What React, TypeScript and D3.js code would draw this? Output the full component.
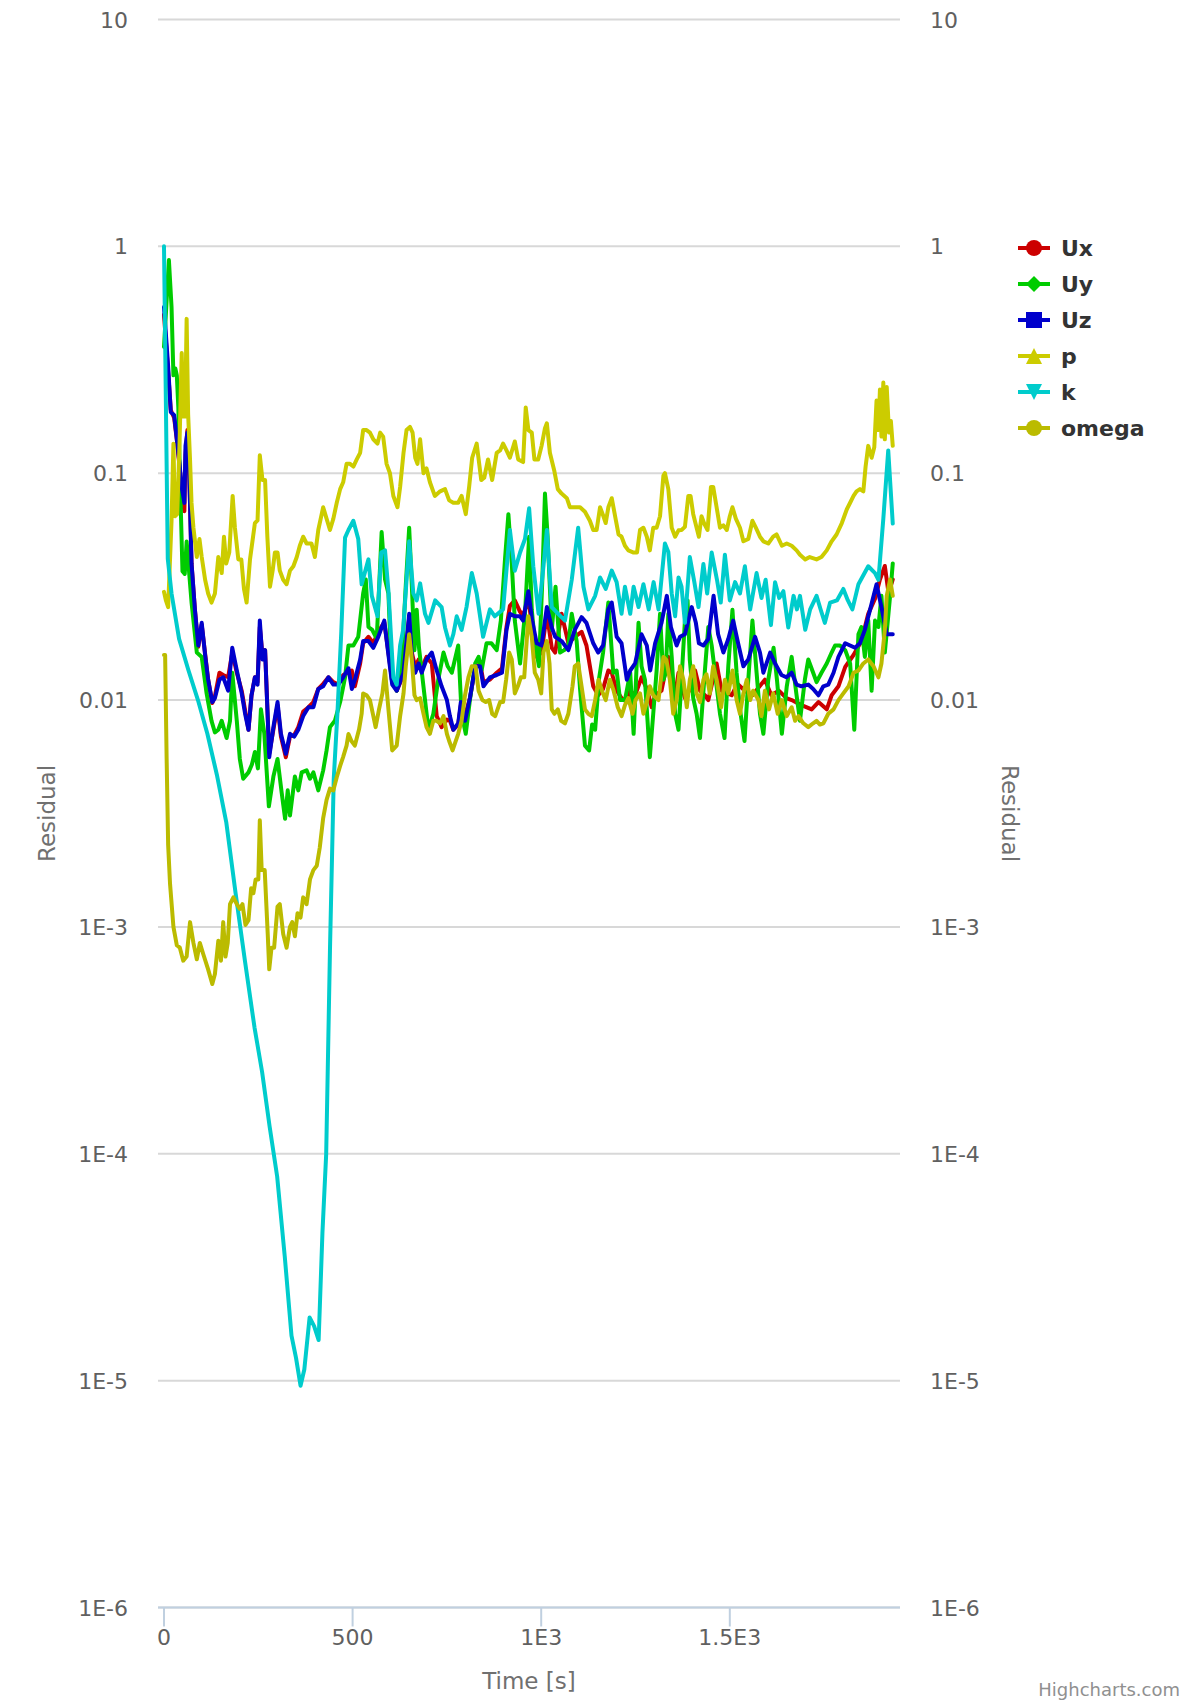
import React from 'react';
import * as d3 from 'd3';

type Pt = [number, number];

const uxData: Pt[] = [[0,0.5],[11,0.28],[18,0.19],[27,0.175],[34,0.14],[40,0.112],[47,0.085],[54,0.068],[57,0.12],[62,0.155],[67,0.098],[73,0.04],[82,0.025],[91,0.0172],[100,0.0215],[109,0.016],[117,0.0123],[128,0.0097],[135,0.0104],[147,0.0132],[157,0.0129],[170,0.0126],[181,0.0162],[193,0.0132],[206,0.011],[215,0.009],[224,0.0074],[232,0.0105],[241,0.0126],[248,0.012],[254,0.021],[261,0.0158],[268,0.0166],[279,0.0058],[290,0.0074],[301,0.0095],[310,0.0069],[323,0.0056],[334,0.0069],[345,0.007],[356,0.0076],[369,0.0089],[383,0.0093],[396,0.0098],[409,0.0112],[422,0.0118],[436,0.0126],[449,0.012],[462,0.0117],[475,0.0129],[489,0.0132],[498,0.0135],[506,0.0115],[520,0.0145],[528,0.0178],[542,0.019],[555,0.0178],[568,0.02],[584,0.022],[595,0.0162],[605,0.012],[617,0.011],[635,0.0129],[650,0.023],[657,0.0162],[666,0.014],[675,0.0151],[683,0.0138],[696,0.0155],[710,0.0145],[723,0.0085],[736,0.0076],[750,0.0082],[758,0.0081],[767,0.0074],[780,0.0078],[787,0.0095],[798,0.0085],[811,0.0102],[825,0.0138],[838,0.0145],[847,0.012],[864,0.0123],[882,0.0132],[896,0.0138],[908,0.021],[917,0.026],[930,0.0275],[944,0.0245],[952,0.0235],[966,0.028],[976,0.021],[988,0.0155],[1001,0.0162],[1015,0.024],[1028,0.017],[1037,0.0162],[1054,0.024],[1072,0.0178],[1089,0.019],[1107,0.02],[1120,0.0174],[1138,0.0115],[1151,0.0105],[1164,0.0112],[1178,0.0135],[1187,0.0132],[1200,0.011],[1213,0.0102],[1227,0.0098],[1236,0.011],[1249,0.0105],[1266,0.0126],[1280,0.0112],[1293,0.0093],[1302,0.0105],[1319,0.011],[1337,0.0155],[1344,0.0126],[1355,0.0105],[1364,0.0132],[1381,0.0102],[1395,0.0112],[1408,0.0135],[1421,0.011],[1434,0.0105],[1443,0.01],[1465,0.0145],[1478,0.011],[1505,0.0105],[1520,0.0118],[1540,0.011],[1560,0.0105],[1593,0.0123],[1610,0.0105],[1630,0.011],[1650,0.0102],[1664,0.01],[1690,0.0095],[1717,0.0091],[1735,0.0098],[1757,0.0091],[1770,0.0105],[1788,0.0115],[1806,0.014],[1828,0.0158],[1849,0.0182],[1867,0.024],[1885,0.028],[1898,0.034],[1911,0.039],[1921,0.0295],[1932,0.034]];

const uyData: Pt[] = [[0,0.36],[13,0.87],[20,0.54],[25,0.27],[30,0.29],[34,0.27],[38,0.195],[42,0.1],[49,0.037],[55,0.036],[60,0.05],[73,0.027],[87,0.0162],[100,0.0155],[113,0.0107],[126,0.0081],[135,0.0072],[144,0.0074],[153,0.0081],[166,0.0068],[175,0.0081],[181,0.0132],[193,0.0081],[201,0.0055],[210,0.0045],[224,0.0048],[233,0.0052],[241,0.0059],[249,0.005],[257,0.0091],[266,0.0071],[278,0.0034],[290,0.0046],[301,0.0055],[312,0.0039],[321,0.003],[328,0.004],[334,0.0031],[347,0.0046],[356,0.004],[365,0.0048],[378,0.0049],[387,0.0045],[396,0.0048],[409,0.004],[422,0.0049],[431,0.006],[440,0.0076],[453,0.0081],[467,0.0098],[480,0.0126],[489,0.0174],[502,0.0174],[515,0.019],[528,0.0295],[535,0.034],[542,0.021],[552,0.0204],[564,0.0186],[577,0.055],[586,0.034],[595,0.0295],[604,0.0123],[617,0.011],[630,0.0145],[641,0.032],[650,0.0575],[657,0.032],[664,0.0166],[670,0.025],[676,0.017],[683,0.0135],[692,0.01],[701,0.0074],[714,0.0087],[727,0.0123],[741,0.0162],[752,0.0141],[763,0.0132],[780,0.0174],[789,0.0087],[800,0.0071],[811,0.01],[825,0.0145],[834,0.0155],[842,0.0135],[855,0.0178],[868,0.0178],[882,0.0166],[893,0.0224],[904,0.0417],[913,0.066],[922,0.04],[930,0.0224],[944,0.0145],[957,0.024],[968,0.0525],[975,0.025],[983,0.0182],[994,0.0141],[1003,0.034],[1010,0.0813],[1017,0.0525],[1028,0.0204],[1038,0.0316],[1050,0.0162],[1061,0.0166],[1072,0.0174],[1081,0.024],[1094,0.0182],[1103,0.0112],[1116,0.0063],[1127,0.006],[1135,0.0078],[1143,0.0074],[1153,0.0123],[1164,0.0162],[1178,0.0269],[1191,0.0132],[1200,0.0135],[1209,0.01],[1222,0.01],[1236,0.0132],[1245,0.0071],[1258,0.0219],[1266,0.0141],[1275,0.0123],[1288,0.0056],[1297,0.0087],[1306,0.0135],[1315,0.024],[1324,0.0123],[1330,0.0132],[1337,0.024],[1346,0.0155],[1355,0.0087],[1364,0.0074],[1372,0.0123],[1381,0.0224],[1388,0.0275],[1394,0.015],[1403,0.0102],[1412,0.0087],[1421,0.0068],[1434,0.0135],[1443,0.021],[1452,0.0174],[1465,0.0115],[1474,0.0087],[1486,0.0068],[1496,0.0141],[1507,0.025],[1518,0.0132],[1527,0.0091],[1539,0.0066],[1549,0.0123],[1560,0.0224],[1571,0.0132],[1580,0.0087],[1589,0.0071],[1602,0.0123],[1616,0.017],[1625,0.0123],[1638,0.0071],[1651,0.0115],[1664,0.0155],[1677,0.0105],[1686,0.0081],[1699,0.0123],[1708,0.0151],[1721,0.0132],[1730,0.012],[1743,0.0132],[1757,0.0145],[1770,0.0162],[1779,0.0174],[1792,0.0174],[1806,0.0166],[1819,0.0145],[1830,0.0074],[1841,0.0195],[1849,0.021],[1858,0.0155],[1867,0.0224],[1876,0.011],[1885,0.0224],[1894,0.021],[1902,0.0288],[1911,0.0162],[1925,0.0288],[1932,0.04]];

const uzData: Pt[] = [[0,0.54],[11,0.295],[18,0.186],[27,0.18],[34,0.141],[40,0.115],[47,0.087],[54,0.074],[57,0.132],[62,0.151],[67,0.1],[73,0.04],[82,0.025],[91,0.0174],[100,0.0219],[109,0.0158],[117,0.0123],[128,0.0098],[135,0.0102],[147,0.0123],[157,0.0126],[170,0.011],[181,0.017],[193,0.0135],[206,0.0107],[215,0.0087],[224,0.0074],[232,0.0105],[241,0.0126],[248,0.0117],[254,0.0224],[261,0.0151],[268,0.0166],[279,0.0056],[290,0.0076],[301,0.0098],[310,0.0071],[323,0.0058],[334,0.0071],[345,0.0069],[356,0.0074],[369,0.0085],[383,0.0093],[396,0.0093],[409,0.0112],[422,0.0115],[436,0.0126],[449,0.0117],[462,0.0117],[475,0.0126],[489,0.0138],[498,0.0112],[506,0.0123],[520,0.0151],[528,0.0182],[542,0.0182],[555,0.017],[568,0.019],[584,0.0224],[595,0.0158],[605,0.0117],[617,0.011],[635,0.0132],[650,0.024],[657,0.0155],[666,0.0132],[675,0.0145],[683,0.0132],[696,0.0151],[710,0.0162],[723,0.0135],[736,0.0115],[750,0.01],[758,0.0085],[767,0.0074],[780,0.0079],[787,0.0098],[798,0.0081],[811,0.0102],[825,0.0141],[838,0.0141],[847,0.0115],[864,0.0126],[882,0.0129],[896,0.0132],[908,0.0204],[917,0.024],[930,0.0234],[944,0.0234],[952,0.0224],[966,0.0302],[976,0.0224],[988,0.0178],[1001,0.0174],[1015,0.0257],[1028,0.0209],[1037,0.019],[1054,0.0182],[1072,0.0166],[1089,0.0204],[1107,0.0232],[1120,0.0219],[1138,0.0178],[1151,0.0162],[1164,0.0174],[1178,0.0251],[1187,0.0269],[1200,0.019],[1213,0.0178],[1227,0.0123],[1236,0.0135],[1249,0.0145],[1266,0.0195],[1280,0.0174],[1289,0.0135],[1302,0.0178],[1319,0.0219],[1333,0.0288],[1344,0.0209],[1359,0.0174],[1368,0.019],[1381,0.0195],[1399,0.0257],[1410,0.0219],[1418,0.0178],[1430,0.0174],[1443,0.0186],[1457,0.0288],[1469,0.0195],[1483,0.0162],[1496,0.0186],[1509,0.0224],[1522,0.0178],[1536,0.0141],[1549,0.0151],[1567,0.019],[1580,0.0162],[1589,0.0132],[1607,0.0162],[1620,0.0145],[1637,0.0129],[1650,0.0126],[1664,0.0132],[1677,0.0117],[1690,0.0115],[1708,0.0117],[1721,0.0112],[1735,0.0105],[1748,0.0115],[1761,0.0117],[1775,0.0132],[1788,0.0155],[1806,0.0178],[1819,0.0174],[1832,0.017],[1845,0.0178],[1858,0.0204],[1872,0.0251],[1889,0.0324],[1902,0.0257],[1916,0.0195],[1932,0.0195]];

const pData: Pt[] = [[0,0.03],[5,0.0275],[11,0.0257],[20,0.0617],[25,0.135],[29,0.0646],[35,0.066],[41,0.132],[47,0.339],[51,0.178],[56,0.178],[60,0.479],[64,0.182],[69,0.115],[73,0.074],[78,0.0575],[87,0.0427],[94,0.0513],[100,0.0427],[109,0.0339],[117,0.0295],[126,0.0269],[135,0.0295],[144,0.0427],[153,0.0363],[159,0.0525],[165,0.04],[173,0.0447],[182,0.0794],[188,0.0575],[197,0.0417],[205,0.0417],[212,0.0309],[219,0.0269],[228,0.0417],[241,0.0603],[248,0.062],[254,0.12],[261,0.0933],[268,0.0933],[274,0.0525],[281,0.0316],[288,0.0372],[294,0.0447],[301,0.0447],[307,0.0372],[316,0.0339],[325,0.0324],[334,0.0372],[343,0.0389],[352,0.0427],[360,0.0479],[369,0.0525],[378,0.049],[391,0.049],[400,0.0427],[409,0.0562],[422,0.0708],[431,0.0631],[440,0.0562],[449,0.0631],[458,0.0741],[467,0.0851],[475,0.0912],[484,0.11],[493,0.11],[502,0.107],[511,0.115],[520,0.123],[528,0.155],[537,0.155],[546,0.151],[555,0.141],[566,0.135],[573,0.151],[581,0.145],[590,0.11],[599,0.1],[608,0.0794],[619,0.0708],[626,0.087],[635,0.123],[643,0.155],[652,0.16],[659,0.151],[666,0.117],[672,0.11],[679,0.141],[688,0.1],[696,0.105],[705,0.0912],[718,0.0794],[732,0.0832],[745,0.0851],[756,0.0759],[767,0.0741],[780,0.0741],[789,0.0794],[800,0.066],[809,0.0871],[817,0.117],[829,0.135],[841,0.0933],[849,0.0955],[859,0.115],[870,0.0933],[882,0.123],[891,0.126],[899,0.135],[908,0.126],[917,0.117],[930,0.138],[939,0.115],[952,0.112],[959,0.195],[966,0.155],[975,0.151],[982,0.115],[992,0.115],[1001,0.132],[1010,0.158],[1015,0.166],[1023,0.123],[1035,0.102],[1044,0.0851],[1054,0.0813],[1068,0.0776],[1076,0.0708],[1089,0.0708],[1103,0.0708],[1116,0.0676],[1129,0.0617],[1138,0.0562],[1147,0.0562],[1156,0.0708],[1165,0.0646],[1171,0.0603],[1178,0.0708],[1187,0.0776],[1196,0.0646],[1205,0.0537],[1213,0.0525],[1222,0.0479],[1231,0.0457],[1245,0.0447],[1254,0.0447],[1262,0.0562],[1271,0.0575],[1280,0.0525],[1288,0.0457],[1297,0.0575],[1306,0.0575],[1315,0.0646],[1324,0.0977],[1328,0.1],[1337,0.0851],[1346,0.0575],[1355,0.0525],[1364,0.056],[1372,0.0562],[1381,0.058],[1390,0.0794],[1396,0.0794],[1403,0.066],[1412,0.0575],[1418,0.0525],[1425,0.0646],[1432,0.06],[1441,0.0562],[1450,0.087],[1456,0.087],[1465,0.0708],[1474,0.0575],[1483,0.0589],[1492,0.0562],[1500,0.0646],[1507,0.0708],[1516,0.0631],[1527,0.0575],[1536,0.0501],[1549,0.0513],[1560,0.0617],[1569,0.0575],[1580,0.0525],[1589,0.0501],[1602,0.049],[1615,0.0525],[1624,0.0537],[1638,0.0479],[1651,0.049],[1664,0.0479],[1677,0.0457],[1686,0.0437],[1700,0.0417],[1712,0.0427],[1730,0.0417],[1743,0.0427],[1757,0.0457],[1770,0.0501],[1783,0.0537],[1797,0.0603],[1810,0.0692],[1819,0.0741],[1828,0.0794],[1836,0.0832],[1845,0.0851],[1854,0.0832],[1860,0.107],[1867,0.132],[1876,0.117],[1883,0.13],[1889,0.209],[1894,0.155],[1898,0.234],[1902,0.145],[1907,0.251],[1911,0.141],[1916,0.24],[1922,0.151],[1927,0.17],[1932,0.132]];

const kData: Pt[] = [[0,1.0],[10,0.042],[20,0.0295],[40,0.0186],[65,0.0135],[90,0.01],[115,0.0071],[140,0.0047],[165,0.0029],[190,0.0014],[215,0.0007],[240,0.00036],[260,0.00023],[280,0.000132],[300,0.0000794],[320,0.0000355],[338,0.0000158],[350,0.0000126],[362,0.0000095],[372,0.0000112],[386,0.000019],[398,0.0000174],[410,0.0000151],[420,0.0000447],[430,0.0001],[440,0.00079],[450,0.0045],[460,0.0089],[470,0.02],[480,0.052],[489,0.0562],[502,0.0617],[515,0.0513],[524,0.0324],[542,0.0417],[551,0.0288],[566,0.0234],[576,0.0447],[586,0.0457],[595,0.0302],[608,0.0126],[617,0.0117],[626,0.0174],[634,0.0204],[650,0.0501],[661,0.0295],[670,0.0275],[679,0.0327],[692,0.024],[701,0.0219],[719,0.0275],[736,0.0257],[745,0.0209],[758,0.0174],[767,0.0195],[776,0.0234],[789,0.0204],[802,0.0257],[816,0.0363],[829,0.0295],[846,0.019],[864,0.0251],[877,0.0234],[899,0.0251],[917,0.0562],[930,0.0372],[944,0.0447],[957,0.0513],[968,0.07],[979,0.0389],[993,0.024],[1006,0.0389],[1015,0.0562],[1028,0.0257],[1045,0.024],[1063,0.0224],[1081,0.0339],[1098,0.0575],[1112,0.0316],[1125,0.0251],[1143,0.0288],[1156,0.0347],[1171,0.0309],[1187,0.0372],[1200,0.0331],[1213,0.024],[1222,0.0316],[1236,0.024],[1245,0.0316],[1258,0.0257],[1271,0.0324],[1285,0.0251],[1298,0.0331],[1311,0.0251],[1328,0.049],[1337,0.045],[1346,0.0295],[1355,0.0234],[1364,0.0347],[1372,0.0316],[1381,0.0219],[1394,0.0427],[1406,0.0331],[1417,0.0257],[1430,0.0398],[1440,0.0295],[1452,0.0447],[1466,0.0339],[1476,0.0269],[1487,0.0437],[1500,0.0275],[1514,0.0331],[1527,0.0295],[1540,0.0389],[1554,0.0251],[1571,0.0363],[1584,0.0282],[1595,0.0339],[1609,0.0214],[1620,0.0331],[1631,0.0282],[1642,0.0302],[1655,0.0209],[1669,0.0288],[1678,0.0251],[1686,0.0288],[1700,0.0204],[1713,0.0251],[1730,0.0288],[1741,0.025],[1752,0.0219],[1766,0.0269],[1784,0.0275],[1801,0.0309],[1813,0.0275],[1825,0.0251],[1841,0.0324],[1867,0.0389],[1885,0.0363],[1894,0.0339],[1907,0.0631],[1920,0.126],[1932,0.06]];

const omegaData: Pt[] = [[0,0.0158],[3,0.0158],[7,0.0055],[11,0.0023],[16,0.00155],[25,0.001],[34,0.00083],[42,0.00081],[51,0.00071],[60,0.00074],[69,0.00105],[78,0.00085],[87,0.00072],[95,0.00085],[104,0.00076],[117,0.00065],[128,0.00056],[135,0.00062],[144,0.00087],[151,0.00071],[157,0.00105],[163,0.00074],[169,0.00085],[175,0.00126],[184,0.00135],[193,0.00126],[201,0.0012],[208,0.00126],[216,0.00102],[224,0.00107],[231,0.00148],[237,0.00141],[243,0.00162],[250,0.00162],[254,0.00295],[259,0.00178],[267,0.00178],[275,0.00093],[279,0.00065],[285,0.00081],[292,0.00081],[301,0.00123],[307,0.00126],[316,0.00093],[325,0.00081],[334,0.001],[340,0.00105],[347,0.00091],[354,0.00115],[362,0.0011],[369,0.00135],[378,0.00126],[387,0.00162],[396,0.00178],[405,0.00186],[413,0.00224],[422,0.00302],[431,0.00363],[440,0.00407],[449,0.004],[458,0.00457],[467,0.00513],[475,0.00562],[484,0.0063],[489,0.00708],[497,0.0066],[506,0.0063],[517,0.00741],[524,0.0087],[528,0.0107],[537,0.0105],[546,0.01],[555,0.0085],[561,0.0076],[570,0.0091],[579,0.0107],[586,0.0135],[595,0.0091],[605,0.006],[617,0.0063],[626,0.0085],[635,0.0107],[641,0.0141],[650,0.0195],[657,0.0151],[664,0.0105],[670,0.01],[679,0.0102],[688,0.0087],[696,0.0076],[705,0.0071],[714,0.0081],[723,0.0081],[732,0.0079],[741,0.0085],[750,0.0071],[756,0.0066],[765,0.006],[772,0.0065],[780,0.0071],[789,0.0081],[798,0.0105],[807,0.0126],[816,0.0141],[826,0.0141],[834,0.011],[844,0.01],[853,0.0098],[862,0.01],[870,0.0087],[878,0.0085],[891,0.0098],[899,0.0098],[907,0.0123],[915,0.0162],[922,0.0151],[930,0.0107],[938,0.0115],[946,0.0126],[955,0.0126],[966,0.0234],[975,0.019],[983,0.0132],[992,0.0123],[1000,0.0107],[1006,0.0162],[1015,0.0182],[1022,0.0145],[1028,0.0091],[1035,0.0087],[1044,0.0091],[1053,0.0081],[1063,0.0079],[1072,0.0087],[1083,0.0115],[1089,0.0141],[1098,0.0145],[1107,0.0115],[1116,0.0091],[1125,0.0087],[1134,0.0085],[1143,0.01],[1152,0.0123],[1161,0.011],[1171,0.01],[1182,0.0123],[1192,0.011],[1203,0.0093],[1213,0.0085],[1222,0.0095],[1231,0.0102],[1242,0.0087],[1250,0.01],[1262,0.0107],[1271,0.0087],[1280,0.0098],[1288,0.0115],[1297,0.0105],[1311,0.01],[1324,0.0155],[1332,0.015],[1341,0.0123],[1350,0.0087],[1359,0.01],[1368,0.0141],[1377,0.0123],[1386,0.0093],[1394,0.0123],[1403,0.0141],[1412,0.0107],[1421,0.0098],[1430,0.0123],[1438,0.013],[1447,0.0107],[1456,0.0141],[1465,0.0123],[1477,0.0093],[1487,0.0123],[1496,0.0107],[1507,0.0135],[1518,0.01],[1527,0.0087],[1536,0.0107],[1545,0.0123],[1554,0.01],[1562,0.011],[1576,0.01],[1584,0.0085],[1593,0.011],[1604,0.0091],[1615,0.0107],[1627,0.0087],[1638,0.01],[1651,0.0085],[1664,0.0093],[1673,0.0081],[1682,0.0085],[1695,0.0079],[1708,0.0076],[1721,0.0079],[1730,0.0081],[1739,0.0078],[1748,0.0079],[1761,0.0087],[1775,0.0091],[1788,0.01],[1801,0.0107],[1815,0.0115],[1828,0.0132],[1841,0.0135],[1854,0.0145],[1867,0.0151],[1881,0.0141],[1894,0.0126],[1902,0.0145],[1911,0.0204],[1916,0.0288],[1925,0.034],[1932,0.0288]];

const seriesNames = ['Ux', 'Uy', 'Uz', 'p', 'k', 'omega'];
const seriesColors = ['#CC0000', '#00CC00', '#0000CC', '#CCCC00', '#00CCCC', '#BBBB00'];
const seriesMarkers = ['circle', 'diamond', 'square', 'triangle', 'triangle-down', 'circle'];
const seriesData = [uxData, uyData, uzData, pData, kData, omegaData];

const xTicks = [0, 500, 1000, 1500];
const xTickLabels = ['0', '500', '1E3', '1.5E3'];
const yTicks = [10, 1, 0.1, 0.01, 1e-3, 1e-4, 1e-5, 1e-6];
const yTickLabels = ['10', '1', '0.1', '0.01', '1E-3', '1E-4', '1E-5', '1E-6'];

const W = 1200;
const H = 1706;
const plotL = 158;
const plotR = 900;
const plotT = 19.5;
const plotB = 1607.5;
const FONT = '"DejaVu Sans", Verdana, sans-serif';

function markerPath(shape: string, cx: number, cy: number): string {
  const r = 8;
  switch (shape) {
    case 'diamond':
      return `M${cx},${cy - r}L${cx + r},${cy}L${cx},${cy + r}L${cx - r},${cy}Z`;
    case 'square':
      return `M${cx - r},${cy - r}H${cx + r}V${cy + r}H${cx - r}Z`;
    case 'triangle':
      return `M${cx},${cy - r}L${cx + r},${cy + r}L${cx - r},${cy + r}Z`;
    case 'triangle-down':
      return `M${cx - r},${cy - r}L${cx + r},${cy - r}L${cx},${cy + r}Z`;
    default:
      return `M${cx - r},${cy}A${r},${r} 0 1,0 ${cx + r},${cy}A${r},${r} 0 1,0 ${cx - r},${cy}Z`;
  }
}

export default function App() {
  const x = d3.scaleLinear().domain([-15.9, 1951.2]).range([plotL, plotR]);
  const y = d3.scaleLog().domain([1e-6, 10]).range([plotB, plotT]);
  const line = d3
    .line<Pt>()
    .x((d) => x(d[0]))
    .y((d) => y(d[1]));

  const legendX = 1018;
  const legendY0 = 248;
  const legendStep = 36;

  return (
    <div style={{ position: 'absolute', left: 0, top: 0, width: W, height: H, background: '#fff' }}>
      <svg width={W} height={H} style={{ display: 'block', fontFamily: FONT }}>
        <rect x={0} y={0} width={W} height={H} fill="#ffffff" />
        <defs>
          <clipPath id="plotClip">
            <rect x={plotL} y={plotT - 10} width={plotR - plotL} height={plotB - plotT + 10} />
          </clipPath>
        </defs>
        {yTicks.map((t, i) => (
          <line key={'g' + i} x1={plotL} x2={plotR} y1={y(t)} y2={y(t)} stroke="#D8D8D8" strokeWidth={2} />
        ))}
        {yTicks.map((t, i) => (
          <text key={'yl' + i} x={128} y={y(t) + 8} textAnchor="end" fontSize={22} fill="#606060">
            {yTickLabels[i]}
          </text>
        ))}
        {yTicks.map((t, i) => (
          <text key={'yr' + i} x={930} y={y(t) + 8} textAnchor="start" fontSize={22} fill="#606060">
            {yTickLabels[i]}
          </text>
        ))}
        <line x1={plotL} x2={plotR} y1={plotB} y2={plotB} stroke="#C0D0E0" strokeWidth={2} />
        {xTicks.map((t, i) => (
          <g key={'xt' + i}>
            <line x1={x(t)} x2={x(t)} y1={plotB} y2={plotB + 19} stroke="#C0D0E0" strokeWidth={2} />
            <text x={x(t)} y={1645} textAnchor="middle" fontSize={22} fill="#606060">
              {xTickLabels[i]}
            </text>
          </g>
        ))}
        <text x={(plotL + plotR) / 2} y={1689} textAnchor="middle" fontSize={23} fill="#707070">
          Time [s]
        </text>
        <text
          transform={`translate(55, ${(plotT + plotB) / 2}) rotate(-90)`}
          textAnchor="middle"
          fontSize={23}
          fill="#707070"
        >
          Residual
        </text>
        <text
          transform={`translate(1002, ${(plotT + plotB) / 2}) rotate(90)`}
          textAnchor="middle"
          fontSize={23}
          fill="#707070"
        >
          Residual
        </text>
        <g clipPath="url(#plotClip)">
          {seriesData.map((data, i) => (
            <path
              key={'s' + i}
              d={line(data) || ''}
              fill="none"
              stroke={seriesColors[i]}
              strokeWidth={4}
              strokeLinejoin="round"
              strokeLinecap="round"
            />
          ))}
        </g>
        {seriesNames.map((name, i) => {
          const cy = legendY0 + i * legendStep;
          return (
            <g key={'lg' + i}>
              <line x1={legendX} x2={legendX + 32} y1={cy} y2={cy} stroke={seriesColors[i]} strokeWidth={4} />
              <path d={markerPath(seriesMarkers[i], legendX + 16, cy)} fill={seriesColors[i]} />
              <text x={1061} y={cy + 8} fontSize={22} fontWeight="bold" fill="#333333">
                {name}
              </text>
            </g>
          );
        })}
        <text x={1180} y={1696} textAnchor="end" fontSize={18} fill="#909090">
          Highcharts.com
        </text>
      </svg>
    </div>
  );
}
